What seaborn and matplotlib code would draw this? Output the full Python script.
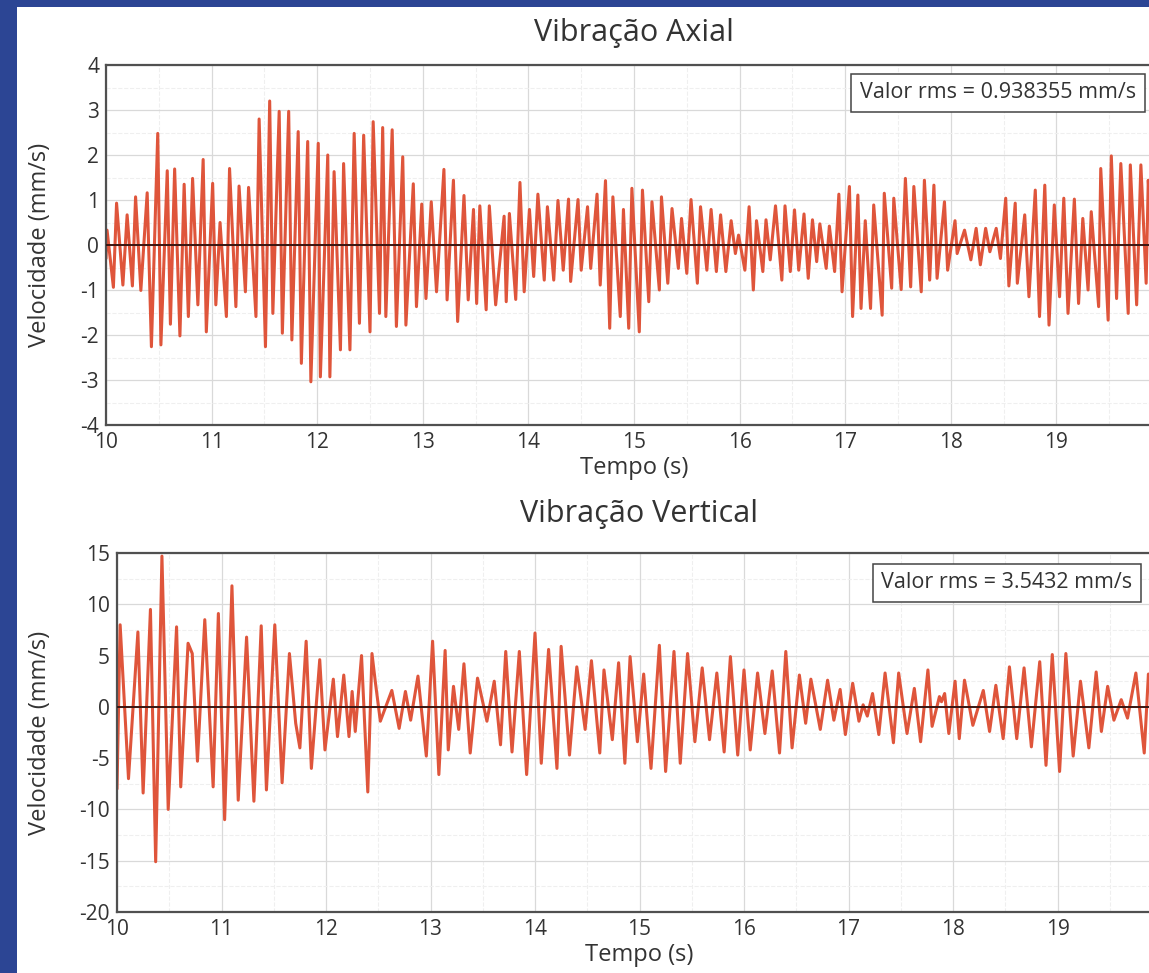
import matplotlib
matplotlib.use("Agg")
import matplotlib.pyplot as plt
import seaborn as sns
from matplotlib.patches import Rectangle
from matplotlib.ticker import MultipleLocator

# Vibração axial: picos e vales (tempo em s, velocidade em mm/s)
axial_t = [10.00, 10.01, 10.07, 10.10, 10.16, 10.20, 10.25, 10.28, 10.33, 10.39,
           10.43, 10.49, 10.52, 10.58, 10.61, 10.65, 10.70, 10.74, 10.78, 10.82,
           10.87, 10.92, 10.95, 11.01, 11.04, 11.08, 11.14, 11.17, 11.23, 11.26,
           11.32, 11.35, 11.42, 11.45, 11.51, 11.55, 11.58, 11.64, 11.67, 11.73,
           11.76, 11.82, 11.85, 11.91, 11.94, 12.01, 12.03, 12.10, 12.12, 12.16,
           12.22, 12.25, 12.31, 12.35, 12.40, 12.44, 12.50, 12.53, 12.59, 12.62,
           12.65, 12.71, 12.75, 12.81, 12.84, 12.91, 12.94, 12.99, 13.03, 13.08,
           13.13, 13.20, 13.23, 13.29, 13.33, 13.39, 13.43, 13.48, 13.51, 13.54,
           13.60, 13.63, 13.69, 13.77, 13.79, 13.82, 13.88, 13.92, 13.96, 14.01,
           14.05, 14.09, 14.15, 14.18, 14.24, 14.28, 14.33, 14.38, 14.40, 14.47,
           14.50, 14.56, 14.59, 14.65, 14.68, 14.73, 14.77, 14.80, 14.87, 14.90,
           14.95, 14.98, 15.05, 15.08, 15.14, 15.17, 15.24, 15.26, 15.32, 15.36,
           15.42, 15.45, 15.50, 15.54, 15.60, 15.63, 15.69, 15.73, 15.78, 15.82,
           15.87, 15.92, 15.96, 15.99, 16.05, 16.09, 16.13, 16.16, 16.22, 16.25,
           16.29, 16.34, 16.40, 16.43, 16.48, 16.52, 16.56, 16.61, 16.65, 16.69,
           16.73, 16.76, 16.82, 16.85, 16.90, 16.94, 16.97, 17.04, 17.07, 17.12,
           17.15, 17.19, 17.24, 17.27, 17.35, 17.37, 17.44, 17.46, 17.53, 17.57,
           17.62, 17.65, 17.72, 17.75, 17.80, 17.84, 17.87, 17.94, 17.97, 18.04,
           18.06, 18.13, 18.19, 18.24, 18.28, 18.33, 18.37, 18.43, 18.47, 18.52,
           18.55, 18.61, 18.63, 18.70, 18.74, 18.80, 18.84, 18.89, 18.93, 18.98,
           19.03, 19.07, 19.11, 19.17, 19.21, 19.25, 19.30, 19.33, 19.40, 19.42,
           19.49, 19.52, 19.57, 19.61, 19.68, 19.70, 19.76, 19.80, 19.85, 19.87,
           19.93]
axial_v = [-0.30, 0.33, -0.94, 0.93, -0.89, 0.67, -0.91, 1.07, -1.01, 1.16,
           -2.26, 2.48, -2.22, 1.65, -1.76, 1.69, -2.02, 1.35, -1.59, 1.48,
           -1.33, 1.90, -1.93, 1.37, -1.33, 0.50, -1.59, 1.70, -1.37, 1.31,
           -1.04, 1.28, -1.59, 2.80, -2.26, 3.20, -1.52, 2.97, -1.96, 2.97,
           -2.11, 2.52, -2.63, 2.30, -3.04, 2.26, -2.93, 2.00, -2.93, 1.63,
           -2.33, 1.81, -2.33, 2.48, -1.74, 2.44, -1.93, 2.74, -1.52, 2.61,
           -1.59, 2.56, -1.81, 1.96, -1.78, 1.36, -1.37, 0.91, -1.19, 0.96,
           -1.04, 1.68, -1.22, 1.44, -1.70, 1.10, -1.22, 0.79, -1.30, 0.87,
           -1.44, 0.87, -1.33, 0.64, -1.26, 0.70, -1.21, 1.39, -1.04, 0.79,
           -0.70, 1.13, -0.78, 0.85, -0.78, 0.99, -0.56, 1.02, -0.81, 1.01,
           -0.56, 0.85, -0.52, 1.13, -0.89, 1.43, -1.85, 1.07, -1.59, 0.79,
           -1.85, 1.26, -1.93, 1.22, -1.26, 0.96, -1.00, 1.07, -0.85, 0.81,
           -0.52, 0.59, -0.63, 1.01, -0.85, 0.85, -0.56, 0.79, -0.59, 0.67,
           -0.59, 0.54, -0.19, 0.22, -0.56, 0.85, -1.00, 0.54, -0.59, 0.56,
           -0.33, 0.87, -0.78, 0.87, -0.59, 0.78, -0.56, 0.69, -0.74, 0.56,
           -0.37, 0.47, -0.52, 0.42, -0.59, 1.13, -1.04, 1.30, -1.59, 1.11,
           -1.41, 0.54, -1.41, 0.89, -1.56, 1.15, -0.96, 1.04, -0.99, 1.48,
           -0.93, 1.30, -1.04, 1.44, -0.78, 1.33, -0.74, 0.96, -0.56, 0.54,
           -0.19, 0.33, -0.33, 0.37, -0.44, 0.37, -0.15, 0.37, -0.30, 1.04,
           -0.91, 0.93, -0.85, 0.67, -1.15, 1.22, -1.59, 1.33, -1.78, 0.89,
           -1.15, 1.04, -1.52, 1.02, -1.30, 0.59, -1.00, 0.74, -1.37, 1.70,
           -1.67, 1.98, -1.19, 1.81, -1.52, 1.78, -1.33, 1.78, -0.85, 1.44,
           -1.00]

# Vibração vertical
vertical_t = [10.00, 10.03, 10.11, 10.20, 10.25, 10.32, 10.37, 10.43, 10.49, 10.57,
              10.61, 10.68, 10.72, 10.77, 10.84, 10.92, 10.97, 11.03, 11.10, 11.16,
              11.24, 11.31, 11.38, 11.43, 11.51, 11.58, 11.65, 11.71, 11.75, 11.81,
              11.86, 11.94, 11.99, 12.07, 12.11, 12.17, 12.22, 12.25, 12.28, 12.34,
              12.40, 12.44, 12.47, 12.52, 12.63, 12.70, 12.76, 12.81, 12.88, 12.96,
              13.02, 13.08, 13.14, 13.17, 13.22, 13.27, 13.32, 13.38, 13.45, 13.54,
              13.61, 13.67, 13.72, 13.78, 13.85, 13.92, 14.00, 14.06, 14.13, 14.21,
              14.25, 14.33, 14.40, 14.48, 14.54, 14.62, 14.66, 14.74, 14.80, 14.86,
              14.91, 14.98, 15.04, 15.11, 15.19, 15.25, 15.33, 15.39, 15.46, 15.53,
              15.60, 15.67, 15.74, 15.81, 15.87, 15.94, 16.00, 16.06, 16.13, 16.20,
              16.27, 16.34, 16.40, 16.46, 16.53, 16.59, 16.64, 16.73, 16.80, 16.86,
              16.92, 16.97, 17.04, 17.10, 17.14, 17.18, 17.23, 17.29, 17.35, 17.43,
              17.48, 17.56, 17.63, 17.69, 17.76, 17.80, 17.87, 17.89, 17.92, 17.96,
              18.02, 18.06, 18.11, 18.19, 18.29, 18.35, 18.41, 18.48, 18.54, 18.61,
              18.68, 18.75, 18.83, 18.89, 18.95, 19.02, 19.08, 19.15, 19.22, 19.30,
              19.37, 19.42, 19.48, 19.54, 19.61, 19.67, 19.75, 19.83, 19.87, 19.93]
vertical_v = [-8.0, 8.0, -7.0, 7.3, -8.4, 9.5, -15.1, 14.7, -10.0, 7.8,
              -7.8, 6.2, 5.2, -5.3, 8.5, -7.8, 9.1, -11.0, 11.8, -9.1,
              6.8, -9.2, 7.9, -8.1, 8.0, -7.4, 5.2, -1.6, -4.0, 6.4,
              -6.0, 4.6, -4.2, 2.7, -2.9, 3.1, -2.9, 1.5, -2.4, 5.0,
              -8.3, 5.2, 2.6, -1.4, 1.6, -2.1, 1.5, -1.3, 3.0, -4.8,
              6.4, -6.6, 5.5, -4.2, 2.0, -2.2, 4.2, -4.5, 2.8, -1.4,
              2.5, -3.7, 5.4, -4.4, 5.4, -6.6, 7.2, -5.5, 5.6, -6.0,
              5.9, -4.7, 3.9, -2.2, 4.5, -4.5, 3.6, -3.2, 4.3, -5.5,
              4.9, -3.4, 3.2, -6.0, 6.0, -6.3, 5.4, -5.5, 5.2, -3.4,
              3.8, -3.2, 3.3, -4.4, 4.9, -4.7, 3.6, -4.2, 3.3, -2.6,
              3.5, -4.5, 5.4, -4.0, 3.1, -1.6, 2.7, -2.2, 2.6, -1.3,
              1.7, -2.7, 2.3, -1.4, 0.2, -0.9, 1.3, -2.7, 3.3, -3.5,
              3.3, -2.6, 1.8, -3.4, 3.6, -1.9, 1.0, 0.5, 1.3, -2.6,
              2.5, -3.1, 2.6, -1.8, 1.6, -2.4, 2.1, -3.1, 3.9, -3.1,
              3.8, -3.9, 4.4, -5.7, 5.1, -6.3, 5.2, -4.8, 2.5, -4.0,
              3.4, -2.4, 2.0, -1.3, 0.7, -1.1, 3.3, -4.5, 3.2, -1.0]

x_ticks = list(range(10, 20))

W, H = 1149, 973
RED = "#df553b"
INK = "#333333"

sns.set_style("white")
plt.rcParams["font.family"] = ["Open Sans", "DejaVu Sans"]
plt.rcParams["axes.unicode_minus"] = False

fig = plt.figure(figsize=(W / 100, H / 100), dpi=100)
fig.patch.set_facecolor("#2c4594")
fig.add_artist(Rectangle((17 / W, 0), 1, 1 - 7 / H, transform=fig.transFigure,
                         facecolor="white", edgecolor="none", zorder=0))


def px_axes(left, top, right, bottom):
    return fig.add_axes([left / W, 1 - bottom / H, (right - left) / W, (bottom - top) / H])


def style(ax, ylim, ymajor, yminor, title, title_pad, left_px):
    ax.set_facecolor("white")
    ax.set_xlim(10, 20)
    ax.set_ylim(*ylim)
    ax.set_xticks(x_ticks)
    ax.xaxis.set_minor_locator(MultipleLocator(0.5))
    ax.yaxis.set_major_locator(MultipleLocator(ymajor))
    ax.yaxis.set_minor_locator(MultipleLocator(yminor))
    ax.grid(which="major", color="#d9d9d9", lw=0.9)
    ax.grid(which="minor", color="#efefef", lw=0.8, ls="--")
    ax.set_axisbelow(True)
    ax.axhline(0, color="#3b1510", lw=1.4, zorder=4)
    for s in ["left", "top", "bottom"]:
        ax.spines[s].set_color("#505050")
        ax.spines[s].set_linewidth(1.6)
    ax.spines["right"].set_visible(False)
    ax.tick_params(which="major", direction="out", length=4, width=1,
                   color="#505050", labelsize=15, labelcolor=INK, pad=1)
    ax.tick_params(which="minor", length=0)
    ax.set_xlabel("Tempo (s)", fontsize=17, color=INK, labelpad=2)
    ax.set_ylabel("Velocidade (mm/s)", fontsize=17, color=INK)
    # posição do rótulo y em pixels da figura
    ax.yaxis.set_label_coords((52 - left_px) / (1162 - left_px), 0.5)
    ax.set_title(title, fontsize=22, color=INK, pad=title_pad)


ax1 = px_axes(106, 65, 1162, 425)
sns.lineplot(x=axial_t, y=axial_v, ax=ax1, color=RED, lw=2.2, estimator=None, sort=False)
style(ax1, (-4, 4), 1, 0.5, "Vibração Axial", 17, 106)

ax2 = px_axes(117, 553, 1162, 912)
sns.lineplot(x=vertical_t, y=vertical_v, ax=ax2, color=RED, lw=2.2, estimator=None, sort=False)
style(ax2, (-20, 15), 5, 2.5, "Vibração Vertical", 22, 117)

box = dict(boxstyle="square,pad=0.4", facecolor="white", edgecolor="#444444", lw=1.1)
fig.text(998 / W, 1 - 93 / H, "Valor rms = 0.938355 mm/s", fontsize=15.5, color=INK,
         ha="center", va="center", bbox=box)
fig.text(1007 / W, 1 - 583 / H, "Valor rms = 3.5432 mm/s", fontsize=15.5, color=INK,
         ha="center", va="center", bbox=box)

fig.savefig("out.png", dpi=100, facecolor=fig.get_facecolor())
